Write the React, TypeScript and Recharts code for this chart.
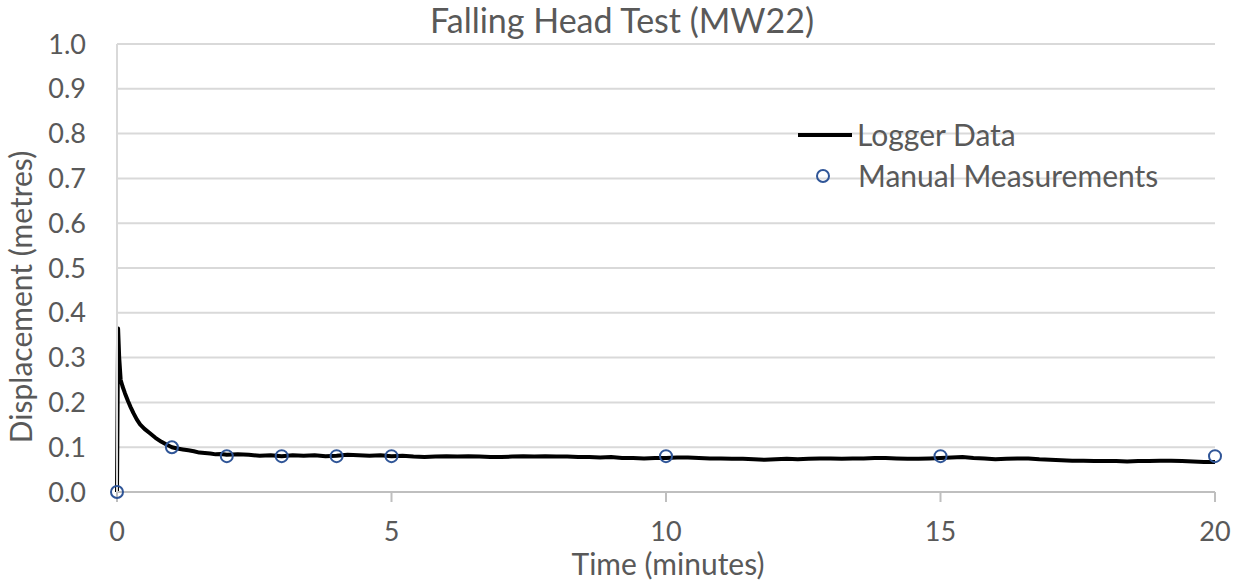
import { ComposedChart, Line, Scatter, XAxis, YAxis, CartesianGrid, Legend, Label } from 'recharts';

// logger trace (minutes, metres)
const loggerTime = [
  0, 0.02, 0.04, 0.067, 0.1, 0.146, 0.2, 0.25, 0.3, 0.36, 0.42, 0.5, 0.6, 0.7, 0.81, 0.9,
  1.0, 1.1, 1.2, 1.3, 1.4, 1.5, 1.6, 1.7, 1.8, 1.9, 2.0, 2.2, 2.4, 2.6, 2.8, 3.0,
  3.2, 3.4, 3.6, 3.8, 4.0, 4.2, 4.4, 4.6, 4.8, 5.0, 5.2, 5.4, 5.6, 5.8, 6.0, 6.2,
  6.4, 6.6, 6.8, 7.0, 7.2, 7.4, 7.6, 7.8, 8.0, 8.2, 8.4, 8.6, 8.8, 9.0, 9.2, 9.4,
  9.6, 9.8, 10.0, 10.2, 10.4, 10.6, 10.8, 11.0, 11.2, 11.4, 11.6, 11.8, 12.0, 12.2, 12.4, 12.6,
  12.8, 13.0, 13.2, 13.4, 13.6, 13.8, 14.0, 14.2, 14.4, 14.6, 14.8, 15.0, 15.2, 15.4, 15.6, 15.8,
  16.0, 16.2, 16.4, 16.6, 16.8, 17.0, 17.2, 17.4, 17.6, 17.8, 18.0, 18.2, 18.4, 18.6, 18.8, 19.0,
  19.2, 19.4, 19.6, 19.8, 20.0,
];
const loggerDisp = [
  0, 0.365, 0.3, 0.25, 0.236, 0.22, 0.203, 0.189, 0.176, 0.162, 0.151, 0.141, 0.131, 0.121, 0.112, 0.106,
  0.1, 0.097, 0.095, 0.093, 0.091, 0.088, 0.087, 0.086, 0.084, 0.085, 0.083, 0.084, 0.083, 0.081, 0.082, 0.08,
  0.082, 0.081, 0.082, 0.08, 0.081, 0.083, 0.082, 0.081, 0.082, 0.08, 0.081, 0.079, 0.078, 0.079, 0.08, 0.079,
  0.08, 0.079, 0.078, 0.078, 0.079, 0.08, 0.079, 0.08, 0.079, 0.079, 0.078, 0.078, 0.077, 0.078, 0.076, 0.076,
  0.075, 0.076, 0.076, 0.077, 0.077, 0.076, 0.075, 0.075, 0.074, 0.074, 0.073, 0.072, 0.073, 0.074, 0.073, 0.074,
  0.075, 0.075, 0.074, 0.075, 0.075, 0.076, 0.076, 0.075, 0.074, 0.074, 0.075, 0.076, 0.077, 0.078, 0.076, 0.075,
  0.073, 0.074, 0.075, 0.075, 0.073, 0.072, 0.071, 0.07, 0.07, 0.069, 0.069, 0.069, 0.068, 0.069, 0.069, 0.07,
  0.07, 0.069, 0.068, 0.067, 0.067,
];

const manualTime = [0, 1, 2, 3, 4, 5, 10, 15, 20];
const manualDisp = [0, 0.1, 0.08, 0.08, 0.08, 0.08, 0.08, 0.08, 0.08];

const xTicks = [0, 5, 10, 15, 20];
const yTicks = [0, 0.1, 0.2, 0.3, 0.4, 0.5, 0.6, 0.7, 0.8, 0.9, 1.0];

const FONT = 'Lato, "Liberation Sans", sans-serif';
const TEXT = '#595959';
const GRID = '#d9d9d9';
const AXIS = '#bfbfbf';
const MARKER = '#2f5597';

const loggerData = loggerTime.map((t, i) => ({ t, d: loggerDisp[i] }));
const manualData = manualTime.map((t, i) => ({ t, d: manualDisp[i] }));

function OpenCircle(props: any) {
  const { cx, cy } = props;
  if (cx == null || cy == null) return null;
  return <circle cx={cx} cy={cy} r={6} fill="none" stroke={MARKER} strokeWidth={2} />;
}

function LegendBox() {
  return (
    <div style={{ fontFamily: FONT, fontSize: 30, color: TEXT, lineHeight: '41px' }}>
      <div style={{ display: 'flex', alignItems: 'center', height: 41 }}>
        <svg width={59} height={20} style={{ display: 'block' }}>
          <line x1={0} y1={10} x2={54} y2={10} stroke="#000" strokeWidth={4} />
        </svg>
        <span>Logger Data</span>
      </div>
      <div style={{ display: 'flex', alignItems: 'center', height: 41 }}>
        <svg width={60} height={20} style={{ display: 'block' }}>
          <circle cx={25} cy={10} r={6} fill="none" stroke={MARKER} strokeWidth={2} />
        </svg>
        <span>Manual Measurements</span>
      </div>
    </div>
  );
}

export default function App() {
  return (
    <div style={{ position: 'absolute', left: 0, top: 0, width: 1242, height: 581, background: '#fff' }}>
      <div
        style={{
          position: 'absolute',
          left: 0,
          width: 1244,
          top: 3,
          textAlign: 'center',
          fontFamily: FONT,
          fontSize: 34,
          lineHeight: '34px',
          color: TEXT,
          zIndex: 1,
        }}
      >
        Falling Head Test (MW22)
      </div>
      <ComposedChart width={1242} height={581} margin={{ top: 44, right: 27, bottom: 0, left: 0 }}>
        <CartesianGrid vertical={false} stroke={GRID} strokeWidth={2} />
        <XAxis
          type="number"
          dataKey="t"
          domain={[0, 20]}
          ticks={xTicks}
          height={89}
          stroke={AXIS}
          strokeWidth={2}
          tickSize={10}
          tickMargin={20}
          tick={{ fill: TEXT, fontSize: 27, fontFamily: FONT }}
        >
          <Label
            content={() => (
              <text x={668} y={575} textAnchor="middle" fill={TEXT} fontSize={30} fontFamily={FONT}>
                Time (minutes)
              </text>
            )}
          />
        </XAxis>
        <YAxis
          type="number"
          domain={[0, 1]}
          ticks={yTicks}
          width={117}
          stroke={GRID}
          strokeWidth={2}
          tickLine={false}
          tickSize={0}
          tickMargin={31}
          tickFormatter={(v: number) => v.toFixed(1)}
          tick={{ fill: TEXT, fontSize: 27, fontFamily: FONT }}
        >
          <Label
            content={() => (
              <text
                x={32}
                y={297}
                transform="rotate(-90 32 297)"
                textAnchor="middle"
                fill={TEXT}
                fontSize={30}
                fontFamily={FONT}
              >
                Displacement (metres)
              </text>
            )}
          />
        </YAxis>
        <Legend
          layout="vertical"
          align="center"
          verticalAlign="middle"
          wrapperStyle={{ left: 798, top: 114, width: 420 }}
          content={() => <LegendBox />}
        />
        <Line
          data={loggerData}
          dataKey="d"
          type="linear"
          stroke="#000"
          strokeWidth={4}
          strokeLinejoin="round"
          dot={false}
          activeDot={false}
          isAnimationActive={false}
          name="Logger Data"
        />
        <Scatter
          data={manualData}
          dataKey="d"
          shape={OpenCircle}
          isAnimationActive={false}
          name="Manual Measurements"
        />
      </ComposedChart>
    </div>
  );
}
